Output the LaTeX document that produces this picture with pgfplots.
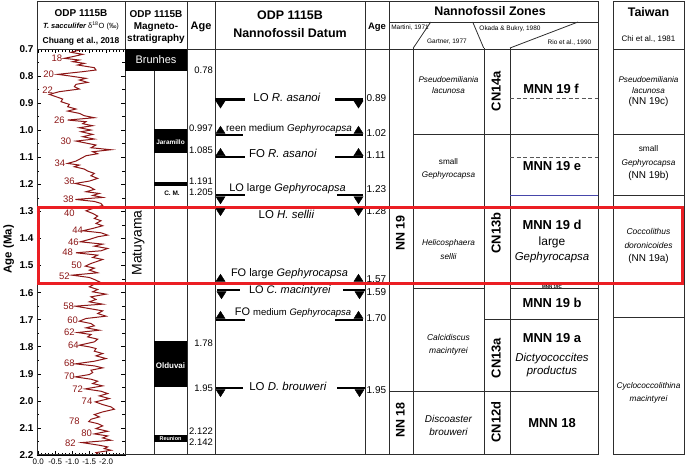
\documentclass[border=0pt]{standalone}
\usepackage{pgfplots}
\pgfplotsset{compat=1.18}
\usepackage{pgfplotstable}
\usepackage{fontspec}
\setmainfont{Liberation Sans}
\definecolor{curve}{RGB}{140,22,22}
\definecolor{redbox}{RGB}{235,30,35}
\definecolor{blueline}{RGB}{70,70,170}
\definecolor{frame}{RGB}{45,45,45}
\newcommand{\fs}[1]{\fontsize{#1}{#1}\selectfont}
\tikzset{lab/.style={inner sep=0pt, anchor=mid}}

\pgfplotstableread{
age d18O
0.7000 -1.407
0.7037 -1.210
0.7123 -0.965
0.7197 -1.309
0.7283 -1.014
0.7345 -0.768
0.7407 -1.210
0.7468 -1.014
0.7530 -1.358
0.7592 -1.161
0.7690 -1.653
0.7776 -1.702
0.7838 -1.309
0.7937 -0.571
0.7986 -0.866
0.8084 -1.407
0.8146 -1.210
0.8232 -1.456
0.8306 -1.112
0.8392 -1.063
0.8479 -1.210
0.8577 -0.620
0.8676 -0.325
0.8762 -0.522
0.8848 -0.719
0.8947 -0.670
0.9046 -0.915
0.9132 -0.866
0.9218 -1.112
0.9292 -0.866
0.9378 -1.210
0.9465 -1.358
0.9539 -1.653
0.9625 -0.866
0.9686 -1.407
0.9760 -1.309
0.9834 -1.604
0.9908 -1.210
0.9994 -1.554
1.0056 -1.260
1.0155 -1.604
1.0241 -1.309
1.0327 -1.653
1.0401 -1.112
1.0487 -1.456
1.0549 -1.702
1.0648 -1.554
1.0722 -2.145
1.0795 -1.604
1.0869 -1.751
1.0943 -1.407
1.1042 -1.260
1.1141 -1.112
1.1227 -0.866
1.1288 -1.210
1.1350 -1.063
1.1436 -1.358
1.1510 -1.456
1.1596 -1.653
1.1683 -1.554
1.1781 -1.751
1.1880 -1.505
1.1966 -1.092
1.2089 -1.505
1.2188 -1.653
1.2274 -1.407
1.2336 -1.800
1.2410 -1.604
1.2484 -1.899
1.2558 -1.092
1.2632 -1.653
1.2706 -1.849
1.2780 -1.899
1.2853 -1.702
1.2977 -1.407
1.3075 -1.604
1.3174 -1.751
1.3260 -1.653
1.3346 -1.849
1.3445 -1.702
1.3531 -1.899
1.3630 -1.604
1.3716 -1.309
1.3790 -1.849
1.3876 -2.046
1.3938 -1.751
1.4036 -1.505
1.4123 -1.240
1.4209 -1.899
1.4283 -1.653
1.4369 -2.046
1.4455 -1.849
1.4529 -1.112
1.4616 -1.751
1.4702 -1.604
1.4776 -1.899
1.4862 -1.702
1.4924 -1.554
1.5022 -1.387
1.5096 -1.653
1.5170 -1.505
1.5269 -1.751
1.5355 -0.994
1.5441 -1.505
1.5515 -1.653
1.5601 -1.800
1.5688 -1.653
1.5786 -1.505
1.5885 -1.751
1.5971 -1.604
1.6057 -1.997
1.6156 -1.554
1.6255 -1.702
1.6341 -1.505
1.6427 -1.899
1.6501 -1.092
1.6600 -1.554
1.6674 -1.899
1.6772 -1.751
1.6871 -1.997
1.6957 -1.407
1.7056 -1.210
1.7142 -1.554
1.7228 -1.653
1.7302 -1.407
1.7389 -1.800
1.7475 -1.161
1.7549 -1.554
1.7635 -1.456
1.7721 -1.751
1.7820 -1.653
1.7943 -1.210
1.8005 -1.505
1.8066 -1.702
1.8165 -1.653
1.8251 -1.899
1.8337 -1.702
1.8436 -1.997
1.8535 -1.653
1.8633 -1.092
1.8707 -1.653
1.8781 -1.899
1.8867 -1.554
1.8954 -1.604
1.9027 -1.505
1.9114 -1.092
1.9200 -1.554
1.9274 -1.751
1.9360 -1.604
1.9446 -1.899
1.9557 -1.387
1.9644 -1.849
1.9730 -2.046
1.9816 -1.800
1.9915 -2.095
2.0038 -1.682
2.0137 -1.899
2.0223 -2.145
2.0309 -2.243
2.0408 -1.899
2.0506 -1.653
2.0593 -1.800
2.0679 -1.554
2.0765 -1.486
2.0839 -1.751
2.0925 -1.899
2.1024 -1.702
2.1123 -2.046
2.1221 -1.653
2.1295 -2.046
2.1369 -1.899
2.1455 -2.145
2.1541 -1.289
2.1640 -1.800
2.1702 -2.046
2.1763 -1.948
2.1825 -2.145
2.1911 -1.702
2.2000 -1.800
}\isotope

\begin{document}
\begin{tikzpicture}
% ---------------- isotope curve ----------------
\begin{axis}[
  at={(37bp,14bp)}, anchor=south west,
  scale only axis, width=88bp, height=406bp,
  xmin=-2.557, xmax=0.038, x dir=reverse,
  ymin=0.7, ymax=2.2, y dir=reverse,
  xtick={0,-0.5,-1,-1.5,-2},
  xticklabels={0.0,-0.5,-1.0,-1.5,-2.0},
  minor xtick={-0.1,-0.2,-0.3,-0.4,-0.6,-0.7,-0.8,-0.9,-1.1,-1.2,-1.3,-1.4,-1.6,-1.7,-1.8,-1.9,-2.1,-2.2,-2.3,-2.4,-2.5},
  ytick={0.7,0.8,0.9,1.0,1.1,1.2,1.3,1.4,1.5,1.6,1.7,1.8,1.9,2.0,2.1,2.2},
  yticklabels={0.7,0.8,0.9,1.0,1.1,1.2,1.3,1.4,1.5,1.6,1.7,1.8,1.9,2.0,2.1,2.2},
  minor ytick={0.75,0.85,0.95,1.05,1.15,1.25,1.35,1.45,1.55,1.65,1.75,1.85,1.95,2.05,2.15},
  xtick pos=both, ytick pos=both,
  xticklabel pos=lower, yticklabel pos=left,
  tick align=inside,
  major tick length=4bp, minor tick length=2.5bp,
  every tick/.style={black, line width=0.6bp},
  axis line style={black, line width=0.8bp},
  yticklabel style={font=\fs{10}\bfseries},
  xticklabel style={font=\fs{8}},
  /pgf/number format/assume math mode=true,
]
\addplot[curve, line width=1bp, no marks] table[x=d18O, y=age] {\isotope};
\end{axis}

% ---------------- chart frame, columns, zones ----------------
\begin{axis}[
  at={(0bp,0bp)}, anchor=south west,
  scale only axis, width=685bp, height=469bp,
  xmin=0, xmax=685, ymin=0.51885, ymax=2.25268, y dir=reverse,
  hide axis, clip=false,
]
% frame lines
\draw[frame, line width=0.8bp] (37,0.52255) -- (598,0.52255);
\draw[frame, line width=0.8bp] (613,0.52255) -- (684,0.52255);
\draw[frame, line width=0.8bp] (37,0.7) -- (598,0.7);
\draw[frame, line width=0.8bp] (613,0.7) -- (684,0.7);
\draw[frame, line width=0.8bp] (37,2.2) -- (598,2.2);
\draw[frame, line width=0.8bp] (613,2.2) -- (684,2.2);
\pgfplotsinvokeforeach{37,125,187,215,365,389,598,613,684}{
  \draw[frame, line width=0.8bp] (#1,0.52255) -- (#1,2.2);
}
\draw[frame, line width=0.8bp] (154,0.78) -- (154,2.2);
\pgfplotsinvokeforeach{413,484,510}{
  \draw[frame, line width=0.8bp] (#1,0.6963) -- (#1,2.2);
}
\draw[frame, line width=0.8bp] (389,0.60018) -- (598,0.60018);
\draw[frame, line width=0.8bp] (430.7,0.60018) -- (413.3,0.6963);
\draw[frame, line width=0.8bp] (472.7,0.60018) -- (483.7,0.6963);
\draw[frame, line width=0.8bp] (578,0.60018) -- (510,0.6963);

% zone boundaries
\draw[frame, line width=0.8bp] (413,1.014) -- (598,1.014);
\draw[frame, line width=0.8bp] (413,1.284) -- (484,1.284);
\draw[frame, line width=0.8bp] (413,1.585) -- (484,1.585);
\draw[frame, line width=0.8bp] (510,1.57) -- (598,1.57);
\draw[frame, line width=0.8bp] (510,1.585) -- (598,1.585);
\draw[frame, line width=0.8bp] (484,1.698) -- (598,1.698);
\draw[frame, line width=0.8bp] (389,1.964) -- (598,1.964);
\draw[frame!80, line width=0.8bp, dash pattern=on 4bp off 2.5bp] (510,0.884) -- (598,0.884);
\draw[frame!80, line width=0.8bp, dash pattern=on 4bp off 2.5bp] (510,1.100) -- (598,1.100);
\draw[blueline, line width=0.8bp] (510,1.240) -- (598,1.240);
\draw[frame, line width=0.8bp] (613,1.014) -- (684,1.014);
\draw[frame, line width=0.8bp] (613,1.243) -- (684,1.243);
\draw[frame, line width=0.8bp] (613,1.694) -- (684,1.694);

% magnetostratigraphy
\fill[black] (125,0.7) rectangle (187,0.78);
\fill[black] (154,0.997) rectangle (187,1.085);
\fill[black] (154,1.191) rectangle (187,1.205);
\fill[black] (154,1.78) rectangle (187,1.95);
\fill[black] (154,2.126) rectangle (187,2.152);
\node[lab, white, font=\fs{11}] at (156,0.7444) {Brunhes};
\node[lab, white, font=\fs{6.5}\bfseries] at (170.5,1.042) {Jaramillo};
\node[lab, font=\fs{6.5}\bfseries] at (172,1.2324) {C. M.};
\node[lab, white, font=\fs{8}\bfseries] at (170.5,1.872) {Olduvai};
\node[lab, white, font=\fs{5.5}\bfseries] at (170.5,2.139) {Reunion};
\node[lab, rotate=90, font=\fs{14}] at (139,1.417) {Matuyama};

% age column 1
\node[inner sep=0pt, anchor=mid east, font=\fs{9.5}] at (213,0.781) {0.78};
\node[inner sep=0pt, anchor=mid east, font=\fs{9.5}] at (213,0.996) {0.997};
\node[inner sep=0pt, anchor=mid east, font=\fs{9.5}] at (213,1.077) {1.085};
\node[inner sep=0pt, anchor=mid east, font=\fs{9.5}] at (213,1.192) {1.191};
\node[inner sep=0pt, anchor=mid east, font=\fs{9.5}] at (213,1.232) {1.205};
\node[inner sep=0pt, anchor=mid east, font=\fs{9.5}] at (213,1.791) {1.78};
\node[inner sep=0pt, anchor=mid east, font=\fs{9.5}] at (213,1.957) {1.95};
\node[inner sep=0pt, anchor=mid east, font=\fs{9.5}] at (213,2.116) {2.122};
\node[inner sep=0pt, anchor=mid east, font=\fs{9.5}] at (213,2.157) {2.142};

% age column 2
\node[inner sep=0pt, anchor=mid west, font=\fs{10}] at (366.5,0.885) {0.89};
\node[inner sep=0pt, anchor=mid west, font=\fs{10}] at (366.5,1.014) {1.02};
\node[inner sep=0pt, anchor=mid west, font=\fs{10}] at (366.5,1.096) {1.11};
\node[inner sep=0pt, anchor=mid west, font=\fs{10}] at (366.5,1.221) {1.23};
\node[inner sep=0pt, anchor=mid west, font=\fs{10}] at (366.5,1.303) {1.28};
\node[inner sep=0pt, anchor=mid west, font=\fs{10}] at (366.5,1.554) {1.57};
\node[inner sep=0pt, anchor=mid west, font=\fs{10}] at (366.5,1.601) {1.59};
\node[inner sep=0pt, anchor=mid west, font=\fs{10}] at (366.5,1.698) {1.70};
\node[inner sep=0pt, anchor=mid west, font=\fs{10}] at (366.5,1.964) {1.95};

% datum bars
\addplot[black, line width=2.5bp, no marks, unbounded coords=jump] coordinates {
 (215,0.886) (245,0.886) (230,nan) (335,0.886) (363,0.886) (340,nan)
 (216,1.018) (243,1.018) (230,nan) (335,1.018) (363,1.018) (340,nan)
 (216,1.100) (245,1.100) (230,nan) (335,1.100) (363,1.100) (340,nan)
 (216,1.240) (245,1.240) (230,nan) (337,1.240) (363,1.240) (340,nan)
 (216,1.284) (245,1.284) (230,nan) (337,1.284) (363,1.284) (340,nan)
 (216,1.565) (245,1.565) (230,nan) (337,1.565) (363,1.565) (340,nan)
 (217,1.591) (240,1.591) (230,nan) (343,1.591) (365,1.591) (340,nan)
 (216,1.702) (245,1.702) (230,nan) (335,1.702) (363,1.702) (340,nan)
 (216,1.953) (243,1.953) (230,nan) (337,1.953) (365,1.953)
};
% LO (last occurrence) markers
\addplot[black, only marks, mark=triangle*, mark size=5.3pt, mark options={rotate=180, yscale=0.9}] coordinates {
 (220.5,0.9008) (358.5,0.9008)
 (220.5,1.2548) (358.5,1.2548)
 (220.5,1.2988) (358.5,1.2988)
 (221.5,1.6058) (359.5,1.6058)
 (220.5,1.9678) (359.5,1.9678)
};
% FO (first occurrence) markers
\addplot[black, only marks, mark=triangle*, mark size=5.3pt, mark options={yscale=0.9}] coordinates {
 (220.5,1.0032) (358.5,1.0032)
 (220.5,1.0852) (358.5,1.0852)
 (220.5,1.5502) (358.5,1.5502)
 (220.5,1.6872) (358.5,1.6872)
};
\node[lab, font=\fs{11.5}] at (287,0.885) {LO \textit{R. asanoi}};
\node[lab, font=\fs{10}] at (289,0.9957) {reen medium \textit{Gephyrocapsa}};
\node[lab, font=\fs{11.5}] at (283,1.0919) {FO \textit{R. asanoi}};
\node[lab, font=\fs{11}] at (287.5,1.2176) {LO large \textit{Gephyrocapsa}};
\node[lab, font=\fs{11.5}] at (286.5,1.3160) {LO \textit{H. sellii}};
\node[lab, font=\fs{11}] at (289.5,1.5318) {FO large \textit{Gephyrocapsa}};
\node[lab, font=\fs{11}] at (290,1.5946) {LO \textit{C. macintyrei}};
\node[lab, font=\fs{11}] at (293,1.6760) {FO {\fs{9.5}medium \textit{Gephyrocapsa}}};
\node[lab, font=\fs{11.5}] at (288,1.9532) {LO \textit{D. brouweri}};

% headers
\node[lab, font=\fs{10}\bfseries] at (81,0.57061) {ODP 1115B};
\node[lab, font=\fs{7.5}] at (81,0.61497) {{\bfseries\itshape T. sacculifer} δ\textsuperscript{18}O (‰)};
\node[lab, font=\fs{8.5}\bfseries] at (81,0.67042) {Chuang et al., 2018};
\node[lab, font=\fs{10}\bfseries] at (156,0.57430) {ODP 1115B};
\node[lab, font=\fs{10}\bfseries] at (156,0.61867) {Magneto-};
\node[lab, font=\fs{10}\bfseries] at (156,0.66303) {stratigraphy};
\node[lab, font=\fs{11}\bfseries] at (201,0.61867) {Age};
\node[lab, font=\fs{12.5}\bfseries] at (290,0.58170) {ODP 1115B};
\node[lab, font=\fs{12.5}\bfseries] at (290,0.64824) {Nannofossil Datum};
\node[lab, font=\fs{9.5}\bfseries] at (377,0.61867) {Age};
\node[lab, font=\fs{12.5}\bfseries] at (490,0.56691) {Nannofossil Zones};
\node[lab, font=\fs{6.5}] at (410,0.61867) {Martini, 1971};
\node[lab, font=\fs{6.5}] at (447,0.66857) {Gartner, 1977};
\node[lab, font=\fs{6.5}] at (510,0.62236) {Okada \& Bukry, 1980};
\node[lab, font=\fs{6.5}] at (569.5,0.67412) {Rio et al., 1990};
\node[lab, font=\fs{12.5}\bfseries] at (648.5,0.57061) {Taiwan};
\node[lab, font=\fs{8}] at (648.5,0.66303) {Chi et al., 1981};

% Gartner zones
\node[lab, font=\fs{8.2}\itshape] at (448.5,0.8146) {Pseudoemiliania};
\node[lab, font=\fs{8.2}\itshape] at (448.5,0.8553) {lacunosa};
\node[lab, font=\fs{8.2}] at (448.5,1.1178) {small};
\node[lab, font=\fs{8.2}\itshape] at (448.5,1.1658) {Gephyrocapsa};
\node[lab, font=\fs{8.3}\itshape] at (448.5,1.4172) {Helicosphaera};
\node[lab, font=\fs{8.3}\itshape] at (448.5,1.4690) {sellii};
\node[lab, font=\fs{8.5}\itshape] at (448.5,1.7684) {Calcidiscus};
\node[lab, font=\fs{8.5}\itshape] at (448.5,1.8165) {macintyrei};
\node[lab, font=\fs{10}\itshape] at (448.5,2.0715) {Discoaster};
\node[lab, font=\fs{10}\itshape] at (448.5,2.1196) {brouweri};

% NN and CN zones
\node[lab, rotate=90, font=\fs{12.5}\bfseries] at (402,1.3802) {NN 19};
\node[lab, rotate=90, font=\fs{12.5}\bfseries] at (402,2.0715) {NN 18};
\node[lab, rotate=90, font=\fs{13}\bfseries] at (498,0.8553) {CN14a};
\node[lab, rotate=90, font=\fs{13}\bfseries] at (498,1.3802) {CN13b};
\node[lab, rotate=90, font=\fs{13}\bfseries] at (498,1.8424) {CN13a};
\node[lab, rotate=90, font=\fs{13}\bfseries] at (498,2.0789) {CN12d};

% MNN zones
\node[lab, font=\fs{13}\bfseries] at (551,0.8541) {MNN 19 f};
\node[lab, font=\fs{13}\bfseries] at (552,1.1399) {MNN 19 e};
\node[lab, font=\fs{13}\bfseries] at (552,1.3580) {MNN 19 d};
\node[lab, font=\fs{12}] at (552,1.4172) {large};
\node[lab, font=\fs{11.5}\itshape] at (552,1.4726) {Gephyrocapsa};
\node[lab, font=\fs{4.5}\bfseries] at (552,1.5750) {MNN 19C};
\node[lab, font=\fs{13}\bfseries] at (552,1.6464) {MNN 19 b};
\node[lab, font=\fs{13}\bfseries] at (552,1.7758) {MNN 19 a};
\node[lab, font=\fs{11.5}\itshape] at (552,1.8460) {Dictyococcites};
\node[lab, font=\fs{11.5}\itshape] at (552,1.8941) {productus};
\node[lab, font=\fs{13}\bfseries] at (552,2.0900) {MNN 18};

% Taiwan zones
\node[lab, font=\fs{8.2}\itshape] at (648.5,0.8146) {Pseudoemiliania};
\node[lab, font=\fs{8.2}\itshape] at (648.5,0.8553) {lacunosa};
\node[lab, font=\fs{10}] at (648.5,0.8959) {(NN 19c)};
\node[lab, font=\fs{8.3}] at (648.5,1.0697) {small};
\node[lab, font=\fs{8.3}\itshape] at (648.5,1.1214) {Gephyrocapsa};
\node[lab, font=\fs{10}] at (648.5,1.1695) {(NN 19b)};
\node[lab, font=\fs{8.5}\itshape] at (648.5,1.3765) {Coccolithus};
\node[lab, font=\fs{8.5}\itshape] at (648.5,1.4283) {doronicoides};
\node[lab, font=\fs{10}] at (648.5,1.4763) {(NN 19a)};
\node[lab, font=\fs{8.3}\itshape] at (648.5,1.9458) {Cyclococcolithina};
\node[lab, font=\fs{8.3}\itshape] at (648.5,1.9939) {macintyrei};

% axis title and MIS labels
\node[lab, rotate=90, font=\fs{11.5}\bfseries] at (9,1.44) {Age (Ma)};
\node[lab, curve, font=\fs{9.5}] at (57,0.737) {18};
\node[lab, curve, font=\fs{9.5}] at (48.7,0.796) {20};
\node[lab, curve, font=\fs{9.5}] at (47.7,0.856) {22};
\node[lab, curve, font=\fs{9.5}] at (59.3,0.965) {26};
\node[lab, curve, font=\fs{9.5}] at (66,1.043) {30};
\node[lab, curve, font=\fs{9.5}] at (60,1.125) {34};
\node[lab, curve, font=\fs{9.5}] at (69.3,1.193) {36};
\node[lab, curve, font=\fs{9.5}] at (68.3,1.258) {38};
\node[lab, curve, font=\fs{9.5}] at (69.3,1.311) {40};
\node[lab, curve, font=\fs{9.5}] at (77.7,1.372) {44};
\node[lab, curve, font=\fs{9.5}] at (73.3,1.415) {46};
\node[lab, curve, font=\fs{9.5}] at (67.7,1.455) {48};
\node[lab, curve, font=\fs{9.5}] at (76.7,1.500) {50};
\node[lab, curve, font=\fs{9.5}] at (64.3,1.542) {52};
\node[lab, curve, font=\fs{9.5}] at (68.7,1.655) {58};
\node[lab, curve, font=\fs{9.5}] at (72.7,1.704) {60};
\node[lab, curve, font=\fs{9.5}] at (69.3,1.750) {62};
\node[lab, curve, font=\fs{9.5}] at (73.3,1.799) {64};
\node[lab, curve, font=\fs{9.5}] at (69.3,1.863) {68};
\node[lab, curve, font=\fs{9.5}] at (69.3,1.911) {70};
\node[lab, curve, font=\fs{9.5}] at (77.7,1.960) {72};
\node[lab, curve, font=\fs{9.5}] at (87,2.005) {74};
\node[lab, curve, font=\fs{9.5}] at (74.3,2.077) {78};
\node[lab, curve, font=\fs{9.5}] at (86.7,2.123) {80};
\node[lab, curve, font=\fs{9.5}] at (70.3,2.158) {82};

% highlighted interval
\draw[redbox, line width=3bp] (38.7,1.2852) rectangle (682.3,1.5651);
\end{axis}
\pgfresetboundingbox
\path[use as bounding box] (0,0) rectangle (685bp,469bp);
\end{tikzpicture}
\end{document}
